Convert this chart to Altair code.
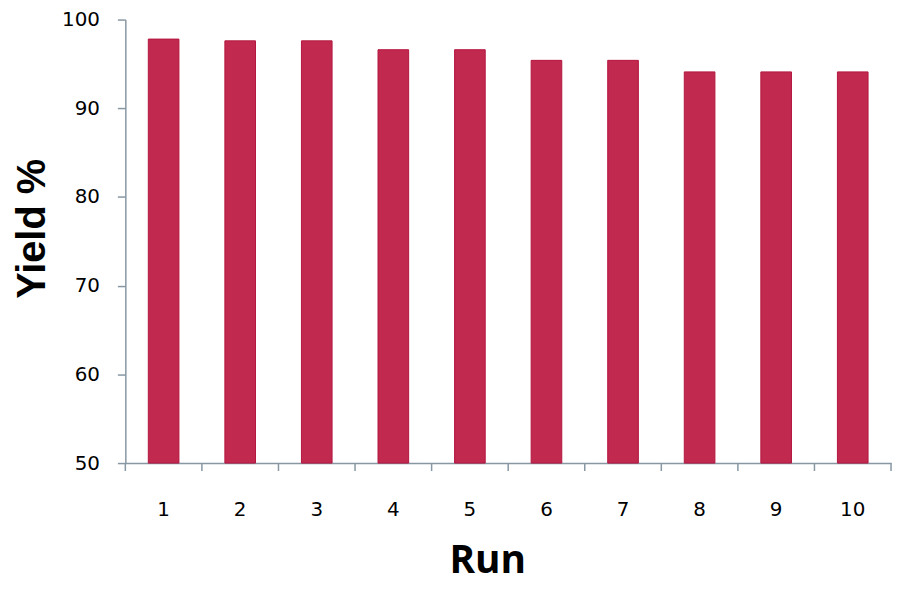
import altair as alt
import pandas as pd

runs = [str(i) for i in range(1, 11)]
yields = [97.8, 97.6, 97.6, 96.6, 96.6, 95.4, 95.4, 94.1, 94.1, 94.1]
y_ticks = [50, 60, 70, 80, 90, 100]

df = pd.DataFrame({"Run": runs, "Yield": yields})

AXIS_COLOR = "#8797A3"
W, H = 770, 446

xscale = alt.Scale(domain=runs, paddingInner=0.6, paddingOuter=0.3)

bars = alt.Chart(df).mark_bar(
    color="#C2294F", stroke="#B3163F", strokeWidth=1
).encode(
    x=alt.X("Run:O", scale=xscale, sort=runs,
            axis=alt.Axis(title="Run", labelAngle=0, ticks=False,
                          labelFont="DejaVu Sans", labelFontSize=20,
                          labelColor="black", labelPadding=37,
                          domainColor=AXIS_COLOR, domainWidth=1.5,
                          titleFont="Open Sans", titleFontSize=39,
                          titleFontWeight="bold", titleColor="black",
                          titleX=364, titleY=110, titleBaseline="alphabetic",
                          titleAlign="center")),
    y=alt.Y("Yield:Q", scale=alt.Scale(domain=[50, 100], zero=False, nice=False),
            axis=alt.Axis(title="Yield %", values=y_ticks, grid=False,
                          tickSize=8, tickColor=AXIS_COLOR, tickWidth=1.5,
                          domainColor=AXIS_COLOR, domainWidth=1.5,
                          labelFont="DejaVu Sans", labelFontSize=20,
                          labelColor="black", labelPadding=18,
                          titleFont="Liberation Sans", titleFontSize=40,
                          titleFontWeight="bold", titleColor="black",
                          titleAngle=270, titleX=-81, titleY=210,
                          titleBaseline="alphabetic", titleAlign="center")),
    y2=alt.datum(50),
)

ticks_left = alt.Chart(df).mark_rule(
    color=AXIS_COLOR, strokeWidth=1.5, xOffset=-38.5
).encode(
    x=alt.X("Run:O", scale=xscale, sort=runs),
    y=alt.value(H), y2=alt.value(H + 8),
)

ticks_right = alt.Chart(df[df["Run"] == runs[-1]]).mark_rule(
    color=AXIS_COLOR, strokeWidth=1.5, xOffset=38.5
).encode(
    x=alt.X("Run:O", scale=xscale, sort=runs),
    y=alt.value(H), y2=alt.value(H + 8),
)

chart = alt.layer(bars, ticks_left, ticks_right).properties(
    width=W, height=H,
    background="white",
    autosize=alt.AutoSizeParams(type="none"),
    padding={"left": 118, "top": 10, "right": 4, "bottom": 123},
).configure_view(strokeWidth=0, stroke=None)

chart.save("out.html", embed_options={"renderer": "svg", "actions": False})
